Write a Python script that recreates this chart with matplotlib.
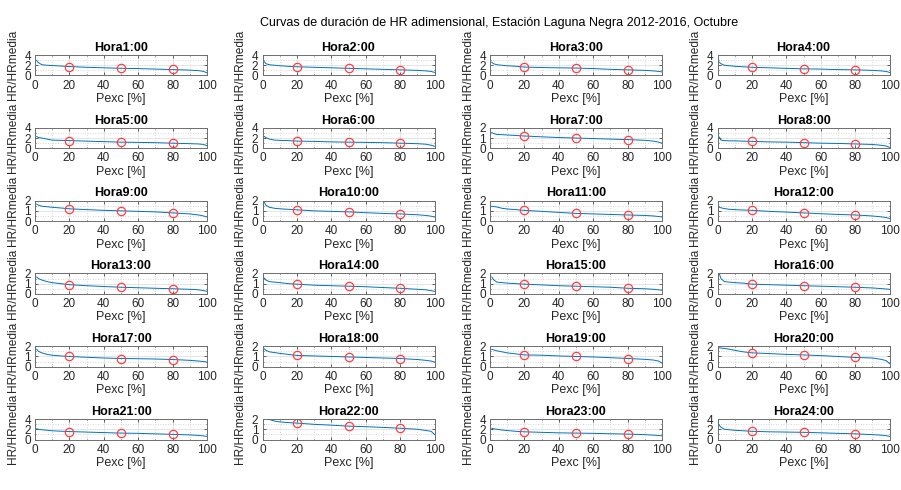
import matplotlib
matplotlib.use('Agg')
import matplotlib.pyplot as plt
from matplotlib.ticker import MultipleLocator

plt.rcParams.update({
    'font.family': ['Liberation Sans', 'DejaVu Sans'],
    'font.size': 8,
})

# Probabilidad de excedencia (%) donde se leen las curvas
pexc = [1, 2, 4, 7, 10, 15, 20, 30, 40, 50, 60, 70, 80, 90, 95, 98, 100]

# HR/HRmedia por hora (lectura aproximada de la figura)
hr = {
    1:  [2.9, 2.5, 2.1, 2.0, 1.95, 1.85, 1.75, 1.6, 1.5, 1.4, 1.35, 1.25, 1.15, 1.05, 0.95, 0.8, 0.5],
    2:  [2.7, 2.3, 2.1, 2.0, 1.9, 1.8, 1.7, 1.6, 1.5, 1.4, 1.3, 1.2, 1.1, 1.0, 0.9, 0.8, 0.6],
    3:  [2.6, 2.3, 2.1, 2.0, 1.9, 1.8, 1.65, 1.55, 1.5, 1.45, 1.35, 1.2, 1.1, 1.0, 0.9, 0.8, 0.7],
    4:  [2.6, 2.3, 2.0, 1.9, 1.8, 1.7, 1.6, 1.5, 1.4, 1.3, 1.25, 1.15, 1.1, 1.0, 0.9, 0.8, 0.6],
    5:  [2.3, 2.1, 2.0, 1.8, 1.6, 1.55, 1.5, 1.4, 1.3, 1.2, 1.15, 1.1, 1.0, 0.9, 0.85, 0.75, 0.5],
    6:  [2.3, 2.1, 1.8, 1.6, 1.55, 1.5, 1.4, 1.35, 1.25, 1.2, 1.15, 1.1, 1.0, 0.9, 0.8, 0.6, 0.4],
    7:  [1.55, 1.45, 1.35, 1.33, 1.3, 1.25, 1.2, 1.12, 1.05, 1.0, 0.95, 0.9, 0.85, 0.78, 0.7, 0.6, 0.5],
    8:  [2.2, 1.6, 1.5, 1.45, 1.45, 1.4, 1.35, 1.25, 1.2, 1.1, 1.0, 0.95, 0.85, 0.75, 0.6, 0.45, 0.2],
    9:  [1.65, 1.55, 1.45, 1.4, 1.35, 1.28, 1.2, 1.12, 1.05, 1.0, 0.95, 0.9, 0.8, 0.7, 0.6, 0.5, 0.4],
    10: [1.85, 1.55, 1.35, 1.25, 1.2, 1.15, 1.1, 1.0, 0.95, 0.9, 0.82, 0.75, 0.7, 0.62, 0.55, 0.48, 0.4],
    11: [1.45, 1.42, 1.38, 1.25, 1.18, 1.12, 1.05, 0.95, 0.85, 0.75, 0.7, 0.65, 0.6, 0.55, 0.5, 0.45, 0.4],
    12: [1.35, 1.3, 1.22, 1.15, 1.12, 1.08, 1.05, 0.95, 0.88, 0.8, 0.72, 0.65, 0.6, 0.5, 0.42, 0.35, 0.25],
    13: [1.65, 1.5, 1.35, 1.2, 1.1, 1.0, 0.9, 0.8, 0.72, 0.65, 0.6, 0.55, 0.5, 0.45, 0.4, 0.32, 0.25],
    14: [1.55, 1.35, 1.2, 1.15, 1.1, 1.0, 0.95, 0.85, 0.8, 0.75, 0.7, 0.62, 0.55, 0.45, 0.4, 0.32, 0.25],
    15: [1.65, 1.4, 1.15, 1.1, 1.05, 1.0, 0.95, 0.88, 0.8, 0.75, 0.7, 0.65, 0.55, 0.5, 0.45, 0.4, 0.35],
    16: [2.0, 1.5, 1.2, 1.15, 1.1, 1.05, 0.95, 0.9, 0.85, 0.8, 0.75, 0.7, 0.65, 0.58, 0.52, 0.48, 0.45],
    17: [1.7, 1.5, 1.35, 1.2, 1.12, 1.05, 1.0, 0.92, 0.85, 0.8, 0.78, 0.75, 0.7, 0.62, 0.55, 0.5, 0.45],
    18: [1.75, 1.6, 1.45, 1.38, 1.3, 1.2, 1.1, 1.05, 1.0, 0.95, 0.9, 0.85, 0.8, 0.7, 0.62, 0.55, 0.45],
    19: [1.7, 1.65, 1.55, 1.45, 1.35, 1.25, 1.15, 1.12, 1.05, 1.0, 0.95, 0.88, 0.8, 0.72, 0.65, 0.55, 0.35],
    20: [1.85, 1.82, 1.78, 1.7, 1.6, 1.45, 1.35, 1.28, 1.2, 1.15, 1.08, 1.0, 0.9, 0.85, 0.72, 0.6, 0.3],
    21: [2.1, 2.0, 1.9, 1.8, 1.7, 1.62, 1.55, 1.45, 1.35, 1.25, 1.2, 1.1, 1.0, 0.9, 0.8, 0.7, 0.6],
    22: [2.0, 1.98, 1.95, 1.8, 1.72, 1.65, 1.6, 1.48, 1.4, 1.3, 1.25, 1.18, 1.1, 1.0, 0.88, 0.8, 0.5],
    23: [2.2, 2.1, 2.0, 1.85, 1.75, 1.6, 1.5, 1.4, 1.3, 1.25, 1.2, 1.12, 1.05, 0.95, 0.85, 0.78, 0.7],
    24: [2.8, 2.4, 2.0, 1.9, 1.8, 1.7, 1.6, 1.5, 1.45, 1.4, 1.3, 1.2, 1.1, 0.95, 0.85, 0.75, 0.6],
}

# Percentiles marcados (20, 50, 80 %)
p_marks = [20, 50, 80]
hr_marks = {
    1: [1.7, 1.4, 1.2], 2: [1.7, 1.4, 1.1], 3: [1.65, 1.45, 1.1], 4: [1.6, 1.3, 1.1],
    5: [1.5, 1.2, 1.0], 6: [1.4, 1.2, 1.0], 7: [1.2, 1.0, 0.85], 8: [1.35, 1.1, 0.85],
    9: [1.2, 1.0, 0.8], 10: [1.1, 0.9, 0.7], 11: [1.05, 0.75, 0.6], 12: [1.05, 0.8, 0.6],
    13: [0.9, 0.65, 0.5], 14: [0.95, 0.75, 0.55], 15: [0.95, 0.75, 0.55], 16: [0.95, 0.8, 0.65],
    17: [1.0, 0.8, 0.7], 18: [1.1, 0.95, 0.8], 19: [1.15, 1.0, 0.8], 20: [1.35, 1.15, 0.9],
    21: [1.55, 1.25, 1.0], 22: [1.6, 1.3, 1.1], 23: [1.5, 1.25, 1.05], 24: [1.6, 1.4, 1.1],
}

# Limite superior del eje y
ymax = {h: (4 if h in (1, 2, 3, 4, 5, 6, 8, 21, 23, 24) else 2) for h in range(1, 25)}

W, H = 901, 490
fig = plt.figure(figsize=(W / 100, H / 100), dpi=100)

left0, dx, aw = 35, 227.5, 172
top0, dy, ah = 55, 72.8, 20.5
txt = '#262626'

for h in range(1, 25):
    r, c = divmod(h - 1, 4)
    x0 = left0 + c * dx
    y0 = top0 + r * dy
    ax = fig.add_axes([x0 / W, 1 - (y0 + ah) / H, aw / W, ah / H])
    ax.plot(pexc, hr[h], '-', color='#0072BD', lw=0.7)
    ax.plot(p_marks, hr_marks[h], 'o', mfc='none', mec='#FF4040', ms=6, mew=0.9)
    ax.set_xlim(0, 100)
    ax.set_ylim(0, ymax[h])
    ax.set_xticks([0, 20, 40, 60, 80, 100])
    ax.set_yticks([0, ymax[h] / 2, ymax[h]])
    ax.set_yticklabels([f'{v:g}' for v in [0, ymax[h] / 2, ymax[h]]])
    ax.xaxis.set_minor_locator(MultipleLocator(10))
    ax.yaxis.set_minor_locator(MultipleLocator(ymax[h] / 4))
    ax.grid(True, which='major', color='#e0e0e0', lw=0.6, ls='-')
    ax.grid(True, which='minor', color='#cccccc', lw=0.6, ls=(0, (1, 2)))
    ax.set_axisbelow(True)
    ax.tick_params(which='both', direction='in', top=True, right=True,
                   colors=txt, labelsize=8.5, length=2, width=0.5, pad=3)
    ax.tick_params(which='minor', length=1)
    for s in ax.spines.values():
        s.set_color('#6e6e6e')
        s.set_linewidth(0.7)
    ax.set_title(f'Hora{h}:00', fontsize=9, fontweight='bold', color='black', pad=3)
    ax.set_xlabel('Pexc [%]', fontsize=9, color=txt, labelpad=1)
    ax.set_ylabel('HR/HRmedia', fontsize=8.6, color=txt, labelpad=4)

fig.suptitle('Curvas de duración de HR adimensional, Estación Laguna Negra 2012-2016, Octubre',
             x=499 / W, y=1 - 17 / H, fontsize=9, color='black')

fig.savefig('out.png', dpi=100, facecolor='white')
